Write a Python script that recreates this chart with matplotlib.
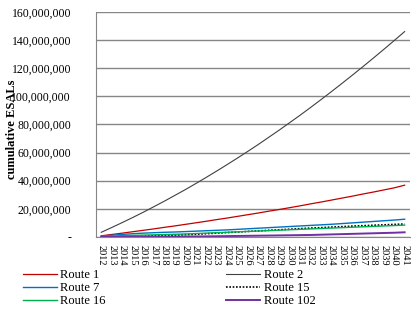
import matplotlib.pyplot as plt
import numpy as np
from matplotlib.ticker import FuncFormatter, MultipleLocator

plt.rcParams['font.family'] = ['Liberation Serif', 'DejaVu Serif']

# Years on the category axis
years = list(range(2012, 2042))

# Cumulative ESALs, in millions
route_1 = [0.8, 1.75, 2.7, 3.7, 4.7, 5.7, 6.8, 7.8, 8.9, 10.0,
           11.1, 12.3, 13.4, 14.6, 15.8, 17.0, 18.3, 19.5, 20.8, 22.1,
           23.5, 24.8, 26.2, 27.6, 29.0, 30.5, 31.9, 33.4, 34.9, 36.8]
route_2 = [3.3, 6.7, 10.2, 13.8, 17.5, 21.4, 25.3, 29.4, 33.5, 37.8,
           42.2, 46.7, 51.3, 56.0, 60.8, 65.7, 70.8, 75.9, 81.2, 86.5,
           92.0, 97.6, 103.3, 109.1, 115.0, 121.0, 127.1, 133.3, 139.6, 146.0]
route_7 = [0.5, 1.2, 1.8, 2.3, 2.7, 3.0, 3.3, 3.5, 3.8, 4.1,
           4.4, 4.7, 5.0, 5.4, 5.8, 6.2, 6.6, 7.0, 7.4, 7.8,
           8.2, 8.6, 9.0, 9.5, 10.0, 10.5, 11.0, 11.5, 12.0, 12.6]
route_15 = [0.0, 0.1, 0.2, 0.4, 0.6, 0.8, 1.0, 1.3, 1.6, 1.9,
            2.3, 2.7, 3.1, 3.5, 3.9, 4.3, 4.7, 5.1, 5.5, 5.9,
            6.3, 6.6, 7.0, 7.3, 7.7, 8.0, 8.3, 8.6, 8.9, 9.2]
route_16 = [0.3, 0.6, 0.9, 1.1, 1.3, 1.5, 1.7, 1.9, 2.1, 2.4,
            2.7, 3.0, 3.3, 3.6, 3.9, 4.2, 4.5, 4.8, 5.1, 5.4,
            5.7, 6.0, 6.3, 6.6, 6.9, 7.2, 7.5, 7.8, 8.1, 8.4]
route_102 = [0.0, 0.05, 0.1, 0.1, 0.15, 0.2, 0.2, 0.25, 0.3, 0.35,
             0.4, 0.5, 0.6, 0.7, 0.8, 0.9, 1.0, 1.1, 1.2, 1.3,
             1.4, 1.6, 1.8, 2.0, 2.2, 2.4, 2.6, 2.8, 3.0, 3.3]

x = np.arange(len(years))

fig = plt.figure(figsize=(4.14, 3.13), dpi=100)
ax = fig.add_axes([0.232, 0.243, 0.758, 0.719])

l1, = ax.plot(x, np.array(route_1) * 1e6, color='#C00000', lw=0.9, label='Route 1')
l2, = ax.plot(x, np.array(route_2) * 1e6, color='#404040', lw=0.8, label='Route 2')
l7, = ax.plot(x, np.array(route_7) * 1e6, color='#0070C0', lw=1.0, label='Route 7')
l15, = ax.plot(x, np.array(route_15) * 1e6, color='black', lw=1.2, ls=(0, (1, 1)), label='Route 15')
l16, = ax.plot(x, np.array(route_16) * 1e6, color='#00B050', lw=1.0, label='Route 16')
l102, = ax.plot(x, np.array(route_102) * 1e6, color='#7030A0', lw=1.4, label='Route 102')

ax.set_xlim(-0.5, len(years) - 0.5)
ax.set_ylim(0, 160e6)
ax.yaxis.set_major_locator(MultipleLocator(20e6))
ax.yaxis.set_major_formatter(FuncFormatter(lambda v, p: '-' if v == 0 else f'{v:,.0f}'))
ax.set_xticks(x)
ax.set_xticklabels([str(y) for y in years], rotation=-90, fontsize=7.5)
ax.tick_params(axis='y', length=0, pad=18, labelsize=8.5)
ax.tick_params(axis='x', length=0, pad=6)

ax.grid(axis='y', color='#868686', lw=1)
ax.set_axisbelow(True)
for s in ['top', 'right']:
    ax.spines[s].set_visible(False)
ax.spines['left'].set_color('#868686')
ax.spines['bottom'].set_color('#868686')

ax.set_ylabel('cumulative ESALs', fontsize=9, fontweight='bold')
ax.yaxis.set_label_coords(-0.248, 0.48)

# legend rows: Route 1 / Route 2, Route 7 / Route 15, Route 16 / Route 102
fig.legend(handles=[l1, l7, l16, l2, l15, l102], ncol=2, loc='upper left',
           bbox_to_anchor=(23 / 414, 1 - 269 / 313), frameon=False,
           fontsize=9, handlelength=2.7, handletextpad=0.3, labelspacing=0.1,
           columnspacing=9.6, borderpad=0, borderaxespad=0)

fig.savefig('out.png', dpi=100)
